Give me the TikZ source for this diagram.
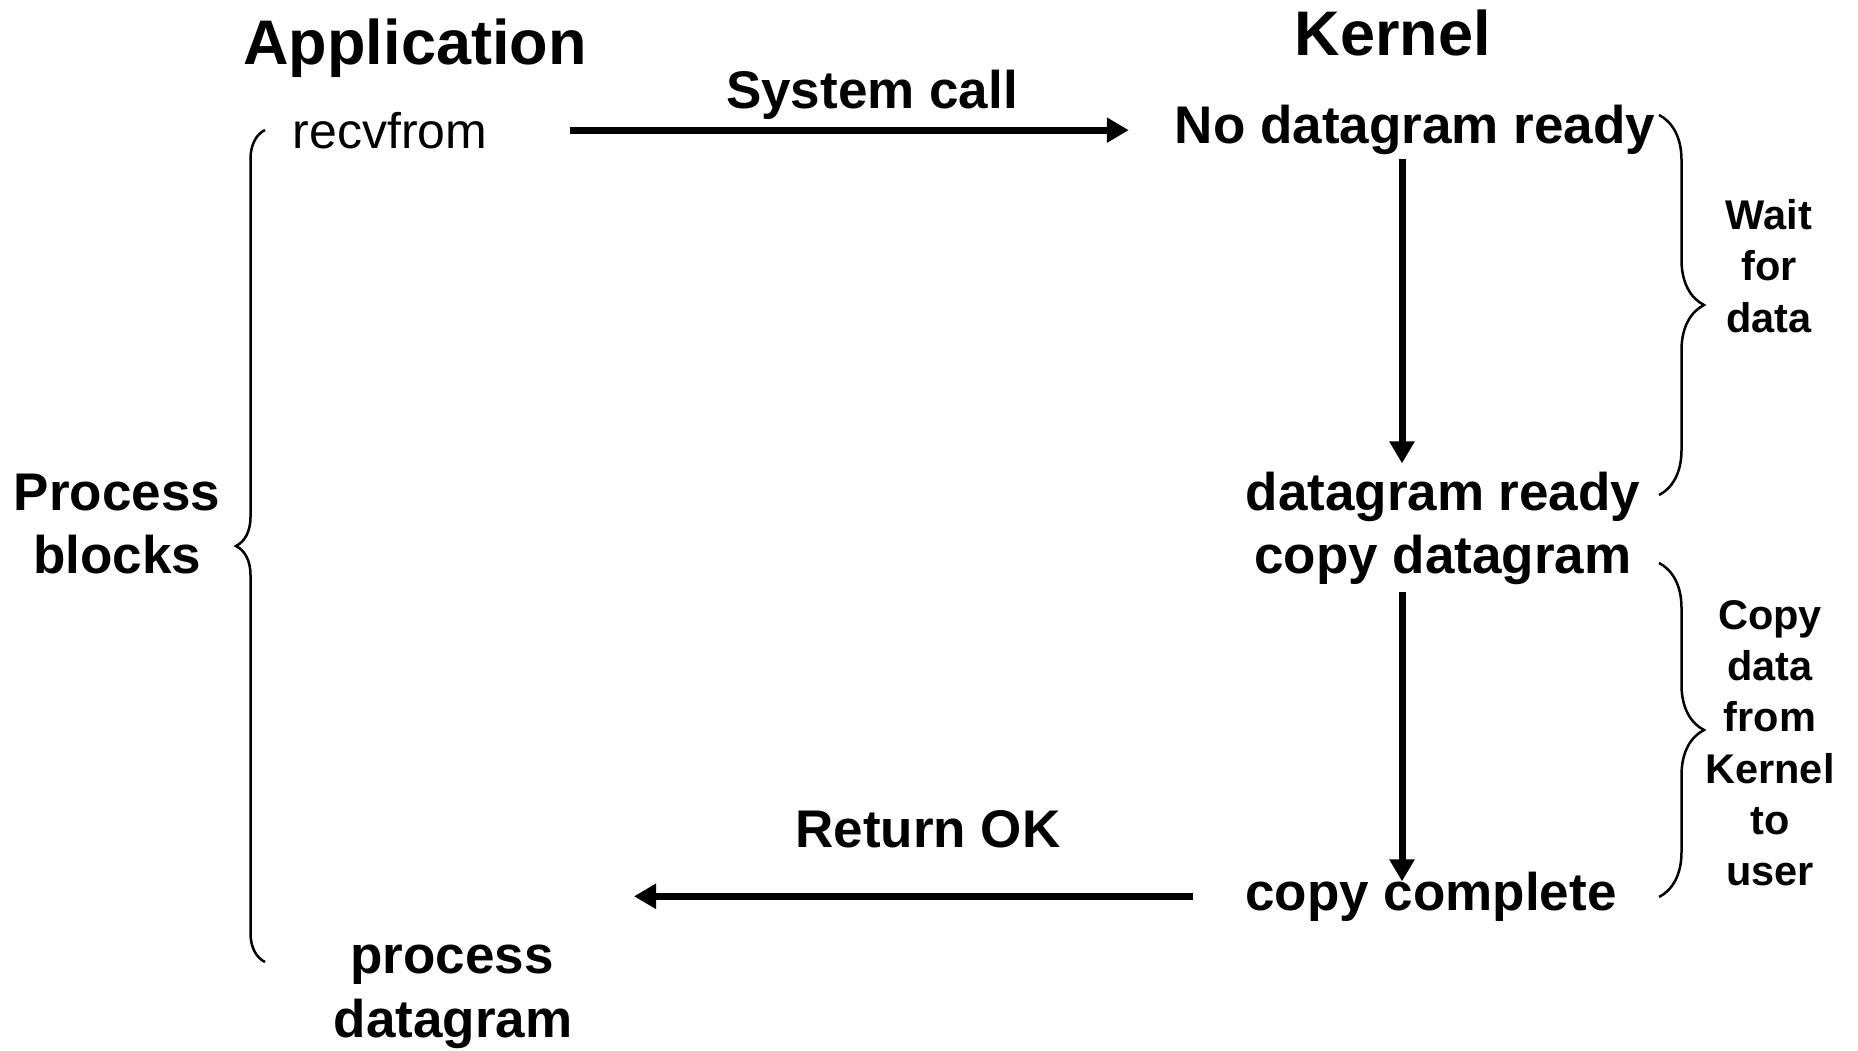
\documentclass[tikz,border=0pt]{standalone}
\usepackage{fontspec}
\setmainfont{Liberation Sans}
\usetikzlibrary{arrows.meta,decorations.pathreplacing}
\begin{document}
\begin{tikzpicture}[x=1pt,y=-1pt,
  every node/.style={inner sep=0pt,anchor=base},
  head/.style={font=\fontsize{63}{63}\selectfont\bfseries},
  lab/.style={font=\fontsize{53}{53}\selectfont\bfseries},
  reg/.style={font=\fontsize{50}{50}\selectfont},
  side/.style={font=\fontsize{41.5}{41.5}\selectfont\bfseries},
  arr/.style={line width=7pt,-{Triangle[length=22pt,width=24pt]}},
  brc/.style={line width=2.5pt,decorate,decoration={brace,amplitude=#1}}]
\useasboundingbox (0,0) rectangle (1858,1050);
% headers
\node[head] (app) at (415,64) {Application};
\node[head] (ker) at (1393,55) {Kernel};
% application side
\node[reg] (recv) at (390,148) {recvfrom};
\node[lab] (proc1) at (117,510) {Process};
\node[lab] (proc2) at (117,573) {blocks};
\node[lab] (pd1) at (452,973) {process};
\node[lab] (pd2) at (453,1037) {datagram};
% kernel side
\node[lab] (nodat) at (1415,143) {No datagram ready};
\node[lab] (dready) at (1443,510) {datagram ready};
\node[lab] (cdgram) at (1443,573) {copy datagram};
\node[lab] (ccomp) at (1431,910) {copy complete};
% arrow labels
\node[lab] (sys) at (872,108) {System call};
\node[lab] (ret) at (928,847) {Return OK};
% side labels
\node[side] (w1) at (1769,229) {Wait};
\node[side] (w2) at (1769,280) {for};
\node[side] (w3) at (1769,332) {data};
\node[side] (c1) at (1770,629) {Copy};
\node[side] (c2) at (1770,680) {data};
\node[side] (c3) at (1770,731) {from};
\node[side] (c4) at (1770,783) {Kernel};
\node[side] (c5) at (1770,834) {to};
\node[side] (c6) at (1770,885) {user};
% connectors
\coordinate (kx) at (1402,0);
\coordinate (retend) at (634,0);
\draw[arr,shorten <=83pt,shorten >=46pt] (recv.east) -- (recv.east -| nodat.west);
\draw[arr] ([yshift=-5pt]nodat.south -| kx) -- ([yshift=8pt]dready.north -| kx);
\draw[arr] ([yshift=-8pt]cdgram.south -| kx) -- ([yshift=-10pt]ccomp.north -| kx);
\draw[arr,shorten <=52pt] (ccomp.west) -- (ccomp.west -| retend);
% braces
\draw[brc=29pt] (265,962) -- (265,130);
\draw[brc=45pt] (1659,115) -- (1659,495);
\draw[brc=45pt] (1659,563) -- (1659,897);
\end{tikzpicture}
\end{document}
